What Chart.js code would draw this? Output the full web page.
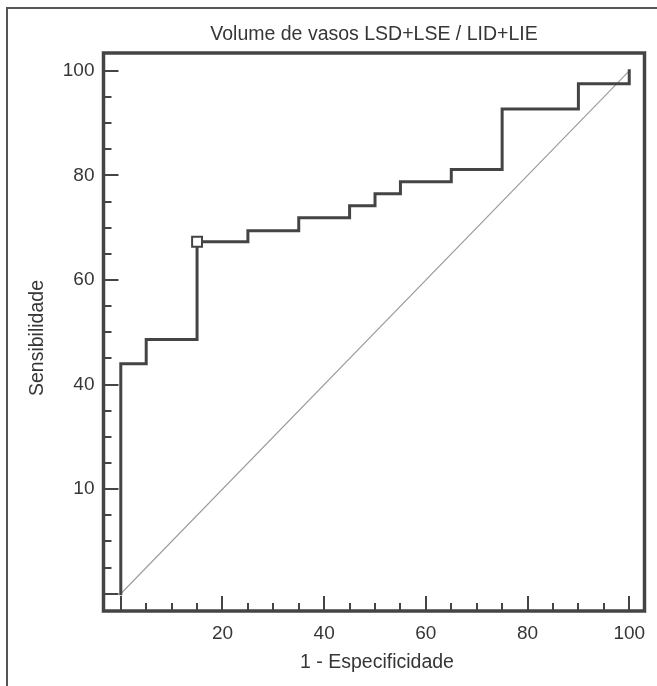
<!DOCTYPE html>
<html><head><meta charset="utf-8">
<script src="https://cdn.jsdelivr.net/npm/chart.js@4.4.1/dist/chart.umd.min.js"></script>
<style>
html,body{margin:0;padding:0;background:#fff;}
#wrap{position:relative;width:657px;height:686px;overflow:hidden;background:#fff;}
#frame{position:absolute;left:6px;top:7px;width:700px;height:700px;border-left:2px solid #555;border-top:2px solid #555;}
canvas{position:absolute;left:0;top:0;}
</style></head><body>
<div id="wrap"><div id="frame"></div><canvas id="c" width="657" height="686"></canvas></div>
<script>
const chartTitle = 'Volume de vasos LSD+LSE / LID+LIE';
const xAxisTitle = '1 - Especificidade';
const yAxisTitle = 'Sensibilidade';

// ROC step curve corner points (1 - specificity, sensitivity)
const rocX = [0, 0, 5, 15, 25, 35, 45, 50, 55, 65, 75, 90, 100];
const rocY = [0, 44, 48.6, 67.3, 69.4, 71.9, 74.2, 76.5, 78.8, 81.1, 92.7, 97.5, 100];

// highlighted cut-off point
const markerX = [15];
const markerY = [67.3];

// reference diagonal
const diagX = [0, 100];
const diagY = [0, 100];

// ticks
const xTickValues = [0,5,10,15,20,25,30,35,40,45,50,55,60,65,70,75,80,85,90,95,100];
const yTickValues = [0,5,10,15,20,25,30,35,40,45,50,55,60,65,70,75,80,85,90,95,100];
const majorTickValues = [0, 20, 40, 60, 80, 100];
const xTickLabels = ['', '20', '40', '60', '80', '100'];
const yTickLabels = ['', '10', '40', '60', '80', '100'];

const toPts = (xs, ys) => xs.map((v, i) => ({x: v, y: ys[i]}));

const INK = '#444444';
const TEXT = '#363636';
const FONT = "'Liberation Sans', Arial, sans-serif";

const frameTicks = {
  id: 'frameTicks',
  afterDraw(chart) {
    const {ctx, chartArea: a, scales: {x, y}} = chart;
    ctx.save();
    ctx.strokeStyle = INK;
    ctx.lineWidth = 2;
    ctx.beginPath();
    yTickValues.forEach(v => {
      const py = Math.round(y.getPixelForValue(v));
      const len = majorTickValues.includes(v) ? 15 : 8;
      ctx.moveTo(a.left, py);
      ctx.lineTo(a.left + len, py);
    });
    xTickValues.forEach(v => {
      const px = Math.round(x.getPixelForValue(v));
      const len = majorTickValues.includes(v) ? 15 : 8;
      ctx.moveTo(px, a.bottom);
      ctx.lineTo(px, a.bottom - len);
    });
    ctx.stroke();
    ctx.lineWidth = 3.5;
    ctx.strokeRect(a.left, a.top, a.right - a.left, a.bottom - a.top);

    ctx.fillStyle = TEXT;
    ctx.font = "19.5px " + FONT;
    ctx.textAlign = 'center';
    ctx.textBaseline = 'alphabetic';
    // chart title
    ctx.fillText(chartTitle, (a.left + a.right) / 2, 40);
    // x axis title
    ctx.fillText(xAxisTitle, (a.left + a.right) / 2 + 3, 668);
    // y axis title
    ctx.translate(43, 338);
    ctx.rotate(-Math.PI / 2);
    ctx.fillText(yAxisTitle, 0, 0);
    ctx.restore();
  }
};

new Chart(document.getElementById('c'), {
  type: 'scatter',
  data: {
    datasets: [
      {
        data: toPts(markerX, markerY), showLine: false, pointStyle: 'rect', pointRadius: 7,
        pointBackgroundColor: '#ffffff', pointBorderColor: INK, pointBorderWidth: 2
      },
      {
        data: toPts(rocX, rocY), showLine: true, stepped: 'before', borderColor: INK, borderWidth: 3,
        pointRadius: 0, fill: false, borderCapStyle: 'square', borderJoinStyle: 'miter'
      },
      {
        data: toPts(diagX, diagY), showLine: true, borderColor: '#9a9a9a', borderWidth: 1.1,
        pointRadius: 0, fill: false
      }
    ]
  },
  options: {
    responsive: false,
    animation: false,
    layout: {padding: {left: 0, right: 12.5, top: 53, bottom: 0}},
    plugins: {legend: {display: false}, tooltip: {enabled: false}, title: {display: false}},
    scales: {
      x: {
        type: 'linear', min: -3.4, max: 103,
        afterBuildTicks: s => { s.ticks = xTickValues.map(v => ({value: v})); },
        afterFit: s => { s.height = 75; },
        grid: {display: false, drawTicks: false},
        border: {display: false},
        ticks: {
          padding: 11, color: TEXT, font: {family: FONT, size: 19}, maxRotation: 0, autoSkip: false,
          callback: v => { const i = majorTickValues.indexOf(v); return i >= 0 ? xTickLabels[i] : ''; }
        },
        title: {display: false}
      },
      y: {
        type: 'linear', min: -3.3, max: 103.4,
        afterBuildTicks: s => { s.ticks = yTickValues.map(v => ({value: v})); },
        afterFit: s => { s.width = 103.5; },
        grid: {display: false, drawTicks: false},
        border: {display: false},
        ticks: {
          padding: 9, color: TEXT, font: {family: FONT, size: 19}, autoSkip: false,
          callback: v => { const i = majorTickValues.indexOf(v); return i >= 0 ? yTickLabels[i] : ''; }
        },
        title: {display: false}
      }
    }
  },
  plugins: [frameTicks]
});
</script>
</body></html>
